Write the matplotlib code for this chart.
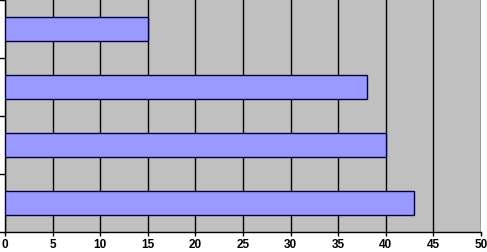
import numpy as np
import matplotlib.pyplot as plt

# categories bottom to top (no labels shown in the chart)
categories = ["1", "2", "3", "4"]
values = [43, 40, 38, 15]
xticks = [0, 5, 10, 15, 20, 25, 30, 35, 40, 45, 50]

fig = plt.figure(figsize=(4.87, 2.52), dpi=100)
ax = fig.add_axes([5 / 487, 20 / 252, 476 / 487, 232 / 252])
ax.set_facecolor("#c0c0c0")

y = np.arange(len(categories))
ax.barh(y, values, height=0.4, color="#9999ff", edgecolor="#000040", linewidth=1, zorder=3)

ax.set_xlim(0, 50)
ax.set_ylim(-0.5, len(categories) - 0.5)
ax.set_xticks(xticks)
ax.set_xticklabels([str(t) for t in xticks], fontsize=8.5, fontweight="bold", family="Liberation Sans")
ax.xaxis.grid(True, color="black", linewidth=1, zorder=1)
ax.set_yticks(np.arange(len(categories) + 1) - 0.5)
ax.set_yticklabels([])
ax.tick_params(axis="y", length=4, width=1, color="black", direction="out")
ax.tick_params(axis="x", length=3, width=1, color="black", pad=2)

for s in ["top", "right"]:
    ax.spines[s].set_visible(False)
ax.spines["left"].set_linewidth(1)
ax.spines["bottom"].set_linewidth(1)

fig.savefig("out.png", dpi=100)
